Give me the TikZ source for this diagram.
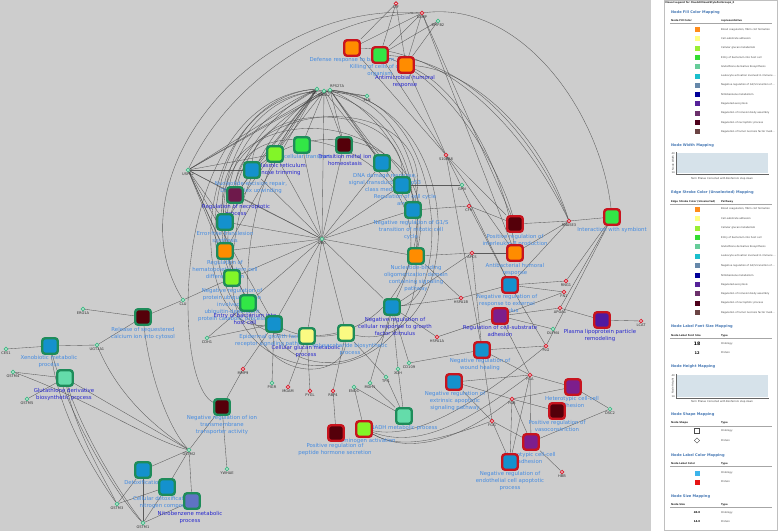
\documentclass[tikz,border=0pt]{standalone}
\usepackage{fontspec}
\setmainfont{DejaVu Sans}
\usetikzlibrary{shapes.geometric}
\definecolor{bgc}{RGB}{205,205,205}
\definecolor{gbord}{RGB}{30,140,90}
\definecolor{rbord}{RGB}{200,20,30}
\definecolor{cor}{RGB}{255,140,0}
\definecolor{cly}{RGB}{250,250,130}
\definecolor{cyg}{RGB}{130,245,40}
\definecolor{cgr}{RGB}{50,230,70}
\definecolor{cmi}{RGB}{100,220,170}
\definecolor{cbl}{RGB}{20,145,205}
\definecolor{cma}{RGB}{85,0,10}
\definecolor{cmp}{RGB}{110,25,75}
\definecolor{cpu}{RGB}{125,30,140}
\definecolor{cin}{RGB}{80,25,160}
\definecolor{csl}{RGB}{95,115,195}
\definecolor{lblue}{RGB}{70,140,225}
\definecolor{dblue}{RGB}{40,40,205}
\definecolor{gring}{RGB}{60,185,130}
\definecolor{rring}{RGB}{215,30,45}
\definecolor{edgec}{RGB}{70,70,70}
\definecolor{legt}{RGB}{70,120,180}
\definecolor{chartc}{RGB}{214,226,234}
\definecolor{lc1}{RGB}{255,140,26}
\definecolor{lc2}{RGB}{255,255,128}
\definecolor{lc3}{RGB}{153,238,51}
\definecolor{lc4}{RGB}{51,221,51}
\definecolor{lc5}{RGB}{102,204,153}
\definecolor{lc6}{RGB}{26,191,204}
\definecolor{lc7}{RGB}{102,136,170}
\definecolor{lc8}{RGB}{0,0,153}
\definecolor{lc9}{RGB}{85,34,153}
\definecolor{lc10}{RGB}{107,48,107}
\definecolor{lc11}{RGB}{77,0,26}
\definecolor{lc12}{RGB}{107,68,68}
\pgfdeclarelayer{edges}
\pgfdeclarelayer{labels}
\pgfsetlayers{edges,labels,main}
\tikzset{
 gonode/.style={rectangle, rounded corners=2.8pt, minimum size=15.5pt, inner sep=0pt, line width=2.4pt},
 gg/.style={gonode, draw=gbord},
 gr/.style={gonode, draw=rbord},
 prot/.style={circle, minimum size=3.4pt, inner sep=0pt, line width=0.8pt, draw=rring, fill=white},
 protg/.style={prot, draw=gring},
 glab/.style={font=\fontsize{3.6}{4}\selectfont, inner sep=0pt, text=black!80, anchor=north},
 lt/.style={font=\fontsize{5.4}{7}\selectfont, align=center, inner sep=0pt, text=lblue, anchor=north},
 dt/.style={lt, text=dblue},
 ed/.style={draw=edgec, line width=0.35pt, opacity=0.85},
 lgt/.style={font=\bfseries\fontsize{3.6}{4}\selectfont, text=legt, anchor=west, inner sep=0pt},
 lgx/.style={font=\fontsize{2.5}{3}\selectfont, text=black!75, anchor=west, inner sep=0pt},
 lgh/.style={font=\bfseries\fontsize{2.5}{3}\selectfont, text=black!85, anchor=west, inner sep=0pt},
 lsq/.style={rectangle, minimum size=5pt, inner sep=0pt},
 hline/.style={draw=black!35, line width=0.3pt},
}
\newcommand\GOn[9]{\node[#1, fill=#2] (#3) at (#4,#5) {};
 \begin{pgfonlayer}{labels}\node[#6] (#3t) at ({#7},{#8-2.6}) {#9};\end{pgfonlayer}}
\newcommand\PN[5]{\node[#1] (#2) at (#3,#4) {};
 \node[glab] (#2t) at ([yshift=-0.4pt]#2.south) {#5};}
\newcommand\lgrow[4]{\node[lsq, fill=#2] (#4s) at (697,#1) {};\node[lgx] (#4t) at (721,#1) {#3};}
\begin{document}
\begin{tikzpicture}[x=1pt,y=-1pt]
\useasboundingbox (0,0) rectangle (779,531);
\begin{pgfonlayer}{edges}
\fill[bgc] (0,0) rectangle (651,531);
\end{pgfonlayer}
% ---------- GO term nodes
\GOn{gr}{cor}{n1}{352}{48}{lt}{352}{60}{Defense response to bacterium}
\GOn{gr}{cgr}{n2}{380}{55}{lt}{380}{67}{Killing of cells of other\\organism}
\GOn{gr}{cor}{n3}{406}{65}{dt}{405}{78}{Antimicrobial humoral\\response}
\GOn{gg}{cgr}{n4}{302}{145}{lt}{301}{157}{Intracellular transport}
\GOn{gg}{cyg}{n5}{275}{154}{dt}{275}{166}{Endoplasmic reticulum\\mannose trimming}
\GOn{gg}{cma}{n6}{344}{145}{dt}{345}{157}{Transition metal ion\\homeostasis}
\GOn{gg}{cbl}{n7}{252}{170}{lt}{251}{184}{Nucleotide-excision repair,\\DNA duplex unwinding}
\GOn{gg}{cbl}{n8}{382}{163}{lt}{385}{176}{DNA damage response,\\signal transduction by p53\\class mediator}
\GOn{gg}{cbl}{n9}{402}{185}{lt}{405}{197}{Regulation of cell cycle\\arrest}
\GOn{gg}{cmp}{n10}{235}{195}{dt}{236}{207}{Regulation of necroptotic\\process}
\GOn{gg}{cbl}{n11}{413}{210}{lt}{411}{223}{Negative regulation of G1/S\\transition of mitotic cell\\cycle}
\GOn{gg}{cbl}{n12}{225}{222}{lt}{225}{234}{Error-free translesion\\synthesis}
\GOn{gg}{cor}{n13}{225}{251}{lt}{225}{263}{Regulation of\\hematopoietic stem cell\\differentiation}
\GOn{gg}{cyg}{n14}{232}{278}{lt}{232}{291}{Negative regulation of\\protein ubiquitination\\involved in\\ubiquitin-dependent\\protein catabolic process}
\GOn{gg}{cgr}{n15}{248}{303}{dt}{245}{316}{Entry of bacterium into\\host cell}
\GOn{gg}{cbl}{n16}{274}{324}{lt}{272}{337}{Epidermal growth factor\\receptor signaling pathway}
\GOn{gg}{cly}{n17}{307}{336}{dt}{306}{348}{Cellular glucan metabolic\\process}
\GOn{gg}{cly}{n18}{346}{333}{lt}{350}{346}{Polysaccharide biosynthetic\\process}
\GOn{gg}{cbl}{n19}{392}{307}{dt}{395}{320}{Negative regulation of\\cellular response to growth\\factor stimulus}
\GOn{gg}{cor}{n20}{416}{256}{lt}{416}{268}{Nucleotide-binding\\oligomerization domain\\containing signaling\\pathway}
\GOn{gr}{cma}{n21}{515}{224}{lt}{515}{237}{Positive regulation of\\interleukin-8 production}
\GOn{gr}{cor}{n22}{515}{253}{lt}{515}{266}{Antibacterial humoral\\response}
\GOn{gr}{cgr}{n23}{612}{217}{lt}{612}{230}{Interaction with symbiont}
\GOn{gr}{cbl}{n24}{510}{285}{lt}{507}{297}{Negative regulation of\\response to external\\stimulus}
\GOn{gr}{cpu}{n25}{500}{316}{dt}{500}{328}{Regulation of cell-substrate\\adhesion}
\GOn{gr}{cin}{n26}{602}{320}{dt}{600}{332}{Plasma lipoprotein particle\\remodeling}
\GOn{gr}{cbl}{n27}{482}{350}{lt}{480}{361}{Negative regulation of\\wound healing}
\GOn{gr}{cbl}{n28}{454}{382}{lt}{455}{394}{Negative regulation of\\extrinsic apoptotic\\signaling pathway}
\GOn{gr}{cpu}{n29}{573}{387}{lt}{572}{399}{Heterotypic cell-cell\\adhesion}
\GOn{gr}{cma}{n30}{557}{411}{lt}{557}{423}{Positive regulation of\\vasoconstriction}
\GOn{gr}{cpu}{n31}{531}{442}{lt}{530}{455}{Homotypic cell-cell\\adhesion}
\GOn{gr}{cbl}{n32}{510}{462}{lt}{510}{474}{Negative regulation of\\endothelial cell apoptotic\\process}
\GOn{gg}{cmi}{n33}{404}{416}{lt}{404}{428}{NADH metabolic process}
\GOn{gr}{cyg}{n34}{364}{429}{lt}{364}{441}{Plasminogen activation}
\GOn{gr}{cma}{n35}{336}{433}{lt}{335}{446}{Positive regulation of\\peptide hormone secretion}
\GOn{gg}{cma}{n36}{222}{407}{lt}{222}{418}{Negative regulation of ion\\transmembrane\\transporter activity}
\GOn{gg}{cma}{n37}{143}{317}{lt}{143}{330}{Release of sequestered\\calcium ion into cytosol}
\GOn{gg}{cbl}{n38}{50}{346}{lt}{49}{358}{Xenobiotic metabolic\\process}
\GOn{gg}{cmi}{n39}{65}{378}{dt}{64}{391}{Glutathione derivative\\biosynthetic process}
\GOn{gg}{cbl}{n40}{143}{470}{lt}{143}{483}{Detoxification}
\GOn{gg}{cbl}{n41}{167}{487}{lt}{166}{499}{Cellular detoxification of\\nitrogen compound}
\GOn{gg}{csl}{n42}{192}{501}{dt}{190}{514}{Nitrobenzene metabolic\\process}
% ---------- protein nodes
\PN{prot}{LTF}{396}{3.5}{LTF}
\PN{prot}{CAMP}{422}{13}{CAMP}
\PN{protg}{BPIFB2}{438}{21}{BPIFB2}
\PN{prot}{S100A8}{446}{155}{S100A8}
\PN{protg}{ELN}{367}{96}{ELN}
\node[protg] (T1) at (317,89) {};
\node[glab, anchor=north east] (T1t) at ([yshift=-0.4pt]T1.south) {UBB};
\node[protg] (T2) at (324,91) {};
\node[glab] (T2t) at ([yshift=-0.4pt]T2.south) {UBA52};
\node[protg] (T3) at (330,90) {};
\node[glab, anchor=south west] (T3t) at ([yshift=0.4pt]T3.north) {RPS27A};
\PN{protg}{UBC}{322}{239}{UBC}
\PN{protg}{USP12}{188}{170}{USP12}
\PN{protg}{GPN}{462}{185}{GPN}
\PN{prot}{CFH}{469}{206}{CFH}
\PN{prot}{APCS}{472}{253}{APCS}
\PN{prot}{RNASE3}{569}{221}{RNASE3}
\PN{prot}{RNG1}{566}{281}{RNG1}
\PN{prot}{FN1}{564}{292}{FN1}
\PN{prot}{APOA1}{560}{308}{APOA1}
\PN{protg}{OLFM4}{553}{329}{OLFM4}
\PN{prot}{PLG}{546}{346}{PLG}
\PN{prot}{LCAT}{641}{321}{LCAT}
\PN{prot}{HSPA1B}{461}{298}{HSPA1B}
\PN{prot}{HSPA1A}{437}{337}{HSPA1A}
\PN{prot}{FGA}{530}{375}{FGA}
\PN{prot}{FGB}{512}{399}{FGB}
\PN{prot}{FGG}{492}{421}{FGG}
\PN{protg}{DSC2}{610}{409}{DSC2}
\PN{prot}{HBB}{562}{472}{HBB}
\PN{protg}{CD109}{409}{363}{CD109}
\PN{protg}{XDH}{398}{369}{XDH}
\PN{protg}{TPI1}{386}{377}{TPI1}
\PN{protg}{MDH1}{370}{383}{MDH1}
\PN{protg}{ENO1}{354}{387}{ENO1}
\PN{prot}{RBP4}{333}{391}{RBP4}
\PN{prot}{PYGL}{310}{391}{PYGL}
\PN{prot}{MGAM}{288}{387}{MGAM}
\PN{protg}{PIGR}{272}{383}{PIGR}
\PN{prot}{MMP9}{243}{369}{MMP9}
\PN{protg}{YWHAE}{227}{469}{YWHAE}
\PN{protg}{GSTM2}{189}{450}{GSTM2}
\PN{protg}{GSTM3}{117}{504}{GSTM3}
\PN{protg}{GSTM1}{143}{523}{GSTM1}
\PN{protg}{GSTM4}{13}{372}{GSTM4}
\PN{protg}{GSTM5}{27}{399}{GSTM5}
\PN{protg}{CES1}{6}{349}{CES1}
\PN{protg}{UGT}{97}{345}{UGT1A1}
\PN{protg}{ERO1A}{83}{309}{ERO1A}
\PN{protg}{CLU}{183}{300}{CLU}
\PN{protg}{CDH1}{207}{338}{CDH1}
% ---------- edges
\begin{pgfonlayer}{edges}
\foreach \a/\b in {UBC/n4,UBC/n5,UBC/n6,UBC/n7,UBC/n8,UBC/n9,UBC/n10,UBC/n11,UBC/n12,UBC/n13,UBC/n14,UBC/n15,UBC/n16,UBC/n17,UBC/n18,UBC/n19,UBC/n20,UBC/T2,UBC/USP12,
 T1/n7,T1/n10,T1/n12,T1/n13,T2/n4,T2/n5,T2/n6,T2/n8,T3/n9,T3/n11,T3/n8,T2/ELN,T3/ELN,T1/n5,T3/n6,
 USP12/n7,USP12/n10,USP12/n12,USP12/n13,USP12/n14,USP12/n15,USP12/n16,USP12/n5,USP12/T1,USP12/T2,USP12/T3,
 LTF/n1,LTF/n2,LTF/n3,CAMP/n1,CAMP/n2,CAMP/n3,BPIFB2/n2,BPIFB2/n3,S100A8/n1,S100A8/n2,S100A8/n3,S100A8/n22,S100A8/n21,S100A8/n24,S100A8/n27,CAMP/n22,CAMP/n21,
 GPN/n9,CFH/n11,CFH/n21,CFH/n24,APCS/n20,APCS/n22,APCS/n19,APCS/n27,HSPA1B/n19,HSPA1B/n24,HSPA1B/n20,HSPA1A/n19,HSPA1A/n25,
 n21/RNASE3,RNASE3/n23,RNASE3/n22,RNASE3/n24,n24/RNG1,n23/RNG1,n23/APOA1,n23/PLG,n25/APOA1,n25/FN1,n24/FN1,APOA1/n26,n26/LCAT,n25/OLFM4,PLG/n27,PLG/n24,
 FGA/n27,FGA/n28,FGA/n29,FGA/n31,FGA/n32,FGA/n25,FGB/n28,FGB/n29,FGB/n31,FGB/n32,FGB/n30,FGG/n28,FGG/n31,FGG/n32,FGG/n27,DSC2/n29,DSC2/n31,HBB/n31,CD109/n27,XDH/n19,CD109/n19,
 n35/RBP4,n34/ENO1,n33/ENO1,n33/MDH1,n33/TPI1,n17/PYGL,n17/MGAM,n16/PIGR,n36/MMP9,MMP9/n16,n36/YWHAE,n18/RBP4,n18/TPI1,n19/MDH1,n33/XDH,
 CLU/n37,CLU/n14,ERO1A/n37,UGT/n37,UGT/n38,CES1/n38,GSTM4/n39,GSTM5/n39,n39/GSTM2,n40/GSTM2,n40/GSTM3,n40/GSTM1,n41/GSTM2,n41/GSTM3,n41/GSTM1,n42/GSTM2,n42/GSTM1,n36/GSTM2,CDH1/n15,CDH1/n16}
 {\draw[ed] (\a) -- (\b);}
% fan from the top cluster
\draw[ed] (T1) .. controls (270,110) and (230,140) .. (n12);
\draw[ed] (T1) .. controls (265,115) and (225,170) .. (n13);
\draw[ed] (T2) .. controls (270,120) and (235,190) .. (n14);
\draw[ed] (T2) .. controls (275,125) and (245,220) .. (n15);
\draw[ed] (T3) .. controls (280,115) and (245,150) .. (n10);
\draw[ed] (T3) .. controls (375,110) and (420,160) .. (n20);
\draw[ed] (T2) .. controls (370,105) and (410,140) .. (n11);
% concentric arcs round the inner cluster
\draw[ed] (n12) .. controls (205,95) and (435,95) .. (n20);
\draw[ed] (n13) .. controls (195,85) and (445,80) .. (n11);
\draw[ed] (n7) .. controls (255,100) and (405,100) .. (n9);
\draw[ed] (n10) .. controls (240,90) and (470,150) .. (n19);
\draw[ed] (n14) .. controls (200,100) and (450,100) .. (n20);
\draw[ed] (T1) .. controls (190,100) and (180,340) .. (n17);
\draw[ed] (T2) .. controls (185,95) and (185,335) .. (n16);
\draw[ed] (T1) .. controls (170,100) and (170,380) .. (n36);
\draw[ed] (T3) .. controls (180,95) and (195,360) .. (n18);
\draw[ed] (T3) .. controls (450,100) and (450,300) .. (n19);
\draw[ed] (T3) .. controls (480,110) and (460,360) .. (n18);
\draw[ed] (T2) .. controls (445,95) and (455,330) .. (n17);
\draw[ed] (n16) .. controls (290,375) and (380,375) .. (n19);
\draw[ed] (n15) .. controls (265,385) and (345,380) .. (n18);
\draw[ed] (n14) .. controls (240,400) and (420,390) .. (n20);
% long arcs
\draw[ed] (CLU) .. controls (110,180) and (250,0) .. (CAMP);
\draw[ed] (USP12) .. controls (230,80) and (330,15) .. (CAMP);
\draw[ed] (CAMP) .. controls (520,0) and (600,110) .. (n23);
\draw[ed] (n3) .. controls (470,70) and (540,130) .. (RNASE3);
\draw[ed] (n2) .. controls (465,60) and (535,135) .. (RNASE3);
\draw[ed] (n1) .. controls (455,50) and (530,140) .. (RNASE3);
\draw[ed] (n3) .. controls (460,90) and (505,170) .. (n22);
\draw[ed] (n2) .. controls (450,80) and (500,170) .. (n21);
\draw[ed] (FGA) .. controls (470,420) and (420,450) .. (n34);
\draw[ed] (FGB) .. controls (460,440) and (410,455) .. (n34);
\draw[ed] (FGG) .. controls (440,440) and (400,450) .. (n34);
\draw[ed] (PLG) .. controls (480,400) and (420,440) .. (n34);
\draw[ed] (GSTM4) .. controls (90,400) and (150,440) .. (GSTM2);
\draw[ed] (UGT) .. controls (120,400) and (160,430) .. (GSTM2);
\draw[ed] (n37) .. controls (150,380) and (170,430) .. (GSTM2);
\draw[ed] (n38) .. controls (60,420) and (100,480) .. (GSTM3);
\draw[ed] (n38) .. controls (70,420) and (120,500) .. (GSTM1);
\draw[ed] (n39) .. controls (75,430) and (105,480) .. (GSTM3);
\draw[ed] (n39) .. controls (85,440) and (125,500) .. (GSTM1);
\end{pgfonlayer}
% ---------- legend
\fill[white] (651,0) rectangle (779,531);
\draw[black!25, line width=0.4pt] (664,0.5) rectangle (777.5,530);
\node[lgh] (lgtitle) at (665,3) {Visual Legend for ClueGOVisualStyleForGroups\_0};
\node[lgt] (lgs1) at (671,13) {Node Fill Color Mapping};
\node[lgh] (lgh1a) at (671,20.5) {Node Fill Color};
\node[lgh] (lgh1b) at (721,20.5) {representative};
\draw[hline] (670,23.5) -- (772,23.5);
\lgrow{29.5}{lc1}{Blood coagulation, fibrin clot formation}{f1}
\lgrow{38.8}{lc2}{Cell-substrate adhesion}{f2}
\lgrow{48.1}{lc3}{Cellular glucan metabolism}{f3}
\lgrow{57.4}{lc4}{Entry of bacterium into host cell}{f4}
\lgrow{66.7}{lc5}{Glutathione derivative biosynthesis}{f5}
\lgrow{76.0}{lc6}{Leukocyte activation involved in immune ...}{f6}
\lgrow{85.3}{lc7}{Negative regulation of G1/S transition of ...}{f7}
\lgrow{94.6}{lc8}{Nitrobenzene metabolism}{f8}
\lgrow{103.9}{lc9}{Regulated exocytosis}{f9}
\lgrow{113.2}{lc10}{Regulation of inclusion body assembly}{f10}
\lgrow{122.5}{lc11}{Regulation of necroptotic process}{f11}
\lgrow{131.8}{lc12}{Regulation of tumor necrosis factor medi...}{f12}
\node[lgt] (lgs2) at (671,146) {Node Width Mapping};
\fill[chartc] (677,153) rectangle (768,173);
\draw[black!60, line width=0.3pt] (676,152) -- (676,174) -- (769,174);
\node[lgx, anchor=east] (w1) at (675,154) {40};
\node[lgx, anchor=east] (w2) at (675,173) {14};
\node[lgx, rotate=90, anchor=center] (w3) at (673,163) {Node Width};
\node[lgx, anchor=center] (w4) at (722,179) {Term PValue Corrected with Bonferroni step down};
\node[lgt] (lgs3) at (671,193) {Edge Stroke Color (Unselected) Mapping};
\node[lgh] (lgh3a) at (671,201.5) {Edge Stroke Color (Unselected)};
\node[lgh] (lgh3b) at (721,201.5) {Pathway};
\draw[hline] (670,204.5) -- (772,204.5);
\lgrow{209.3}{lc1}{Blood coagulation, fibrin clot formation}{e1}
\lgrow{218.7}{lc2}{Cell-substrate adhesion}{e2}
\lgrow{228.1}{lc3}{Cellular glucan metabolism}{e3}
\lgrow{237.5}{lc4}{Entry of bacterium into host cell}{e4}
\lgrow{246.9}{lc5}{Glutathione derivative biosynthesis}{e5}
\lgrow{256.3}{lc6}{Leukocyte activation involved in immune ...}{e6}
\lgrow{265.7}{lc7}{Negative regulation of G1/S transition of ...}{e7}
\lgrow{275.1}{lc8}{Nitrobenzene metabolism}{e8}
\lgrow{284.5}{lc9}{Regulated exocytosis}{e9}
\lgrow{293.9}{lc10}{Regulation of inclusion body assembly}{e10}
\lgrow{303.3}{lc11}{Regulation of necroptotic process}{e11}
\lgrow{312.7}{lc12}{Regulation of tumor necrosis factor medi...}{e12}
\node[lgt] (lgs4) at (671,327) {Node Label Font Size Mapping};
\node[lgh] (lgh4a) at (671,335.5) {Node Label Font Size};
\node[lgh] (lgh4b) at (721,335.5) {Type};
\draw[hline] (670,338.5) -- (772,338.5);
\node[font=\bfseries\fontsize{4.6}{5}\selectfont, inner sep=0pt] (fs1) at (697,344) {18};
\node[lgx] (fs1t) at (721,344) {Ontology};
\node[font=\bfseries\fontsize{3.6}{4}\selectfont, inner sep=0pt] (fs2) at (697,352.7) {12};
\node[lgx] (fs2t) at (721,352.7) {Protein};
\node[lgt] (lgs5) at (671,367) {Node Height Mapping};
\fill[chartc] (677,375) rectangle (768,397);
\draw[black!60, line width=0.3pt] (676,374) -- (676,398) -- (769,398);
\node[lgx, anchor=east] (h1) at (675,376) {40};
\node[lgx, anchor=east] (h2) at (675,397) {14};
\node[lgx, rotate=90, anchor=center] (h3) at (673,386) {Node Height};
\node[lgx, anchor=center] (h4) at (722,402) {Term PValue Corrected with Bonferroni step down};
\node[lgt] (lgs6) at (671,415) {Node Shape Mapping};
\node[lgh] (lgh6a) at (671,423) {Node Shape};
\node[lgh] (lgh6b) at (721,423) {Type};
\draw[hline] (670,426) -- (772,426);
\node[rectangle, draw=black!70, line width=0.4pt, minimum size=5pt, inner sep=0pt] (sh1) at (697,431) {};
\node[lgx] (sh1t) at (721,431) {Ontology};
\node[diamond, draw=black!70, line width=0.4pt, minimum size=5.5pt, inner sep=0pt] (sh2) at (697,440.5) {};
\node[lgx] (sh2t) at (721,440.5) {Protein};
\node[lgt] (lgs7) at (671,456) {Node Label Color Mapping};
\node[lgh] (lgh7a) at (671,463.5) {Node Label Color};
\node[lgh] (lgh7b) at (721,463.5) {Type};
\draw[hline] (670,466.5) -- (772,466.5);
\node[lsq, fill={rgb,255:red,60;green,180;blue,235}] (lc1s) at (697,473) {};
\node[lgx] (lc1t) at (721,473) {Ontology};
\node[lsq, fill={rgb,255:red,230;green,20;blue,20}] (lc2s) at (697,482) {};
\node[lgx] (lc2t) at (721,482) {Protein};
\node[lgt] (lgs8) at (671,497) {Node Size Mapping};
\node[lgh] (lgh8a) at (671,504.5) {Node Size};
\node[lgh] (lgh8b) at (721,504.5) {Type};
\draw[hline] (670,507.5) -- (772,507.5);
\node[font=\bfseries\fontsize{2.6}{3}\selectfont, inner sep=0pt] (sz1) at (697,512.5) {40.0};
\node[lgx] (sz1t) at (721,512.5) {Ontology};
\node[font=\bfseries\fontsize{2.6}{3}\selectfont, inner sep=0pt] (sz2) at (697,521.5) {14.0};
\node[lgx] (sz2t) at (721,521.5) {Protein};
\end{tikzpicture}
\end{document}
